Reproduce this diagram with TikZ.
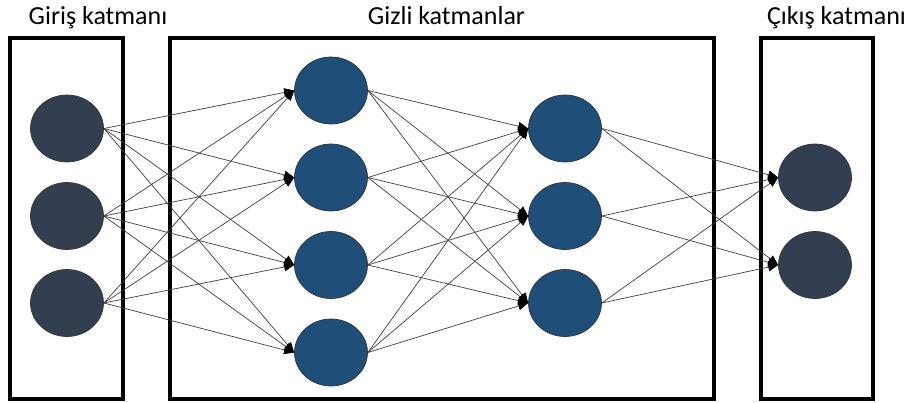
\documentclass[tikz,border=0pt]{standalone}
\usepackage{fontspec}
\setmainfont{Carlito}
\usetikzlibrary{shapes.geometric,arrows.meta}
\definecolor{darkn}{HTML}{333F50}
\definecolor{bluen}{HTML}{1F4E79}
\tikzset{
  neuron/.style={ellipse,draw=black!80,line width=0.7pt,minimum width=73pt,minimum height=67pt,inner sep=0pt},
  inneuron/.style={neuron,fill=darkn},
  hidneuron/.style={neuron,fill=bluen},
  layerbox/.style={draw=black,line width=4pt},
  conn/.style={draw=black!75,line width=0.7pt,-{Triangle[length=10pt,width=8.5pt,fill=black,color=black]}},
  title/.style={font=\fontsize{26}{30}\selectfont,anchor=base,inner sep=0pt}
}
\begin{document}
\begin{tikzpicture}[x=1pt,y=-1pt]
\useasboundingbox (0,0) rectangle (910,403);
\fill[white] (0,0) rectangle (910,403);
% boxes
\draw[layerbox] (10.3,38.5) rectangle (123,398.5);
\draw[layerbox] (170.3,38.5) rectangle (714,398.5);
\draw[layerbox] (761.3,38.5) rectangle (873,398.5);
% titles
\node[title] (t1) at (98,25) {Giriş katmanı};
\node[title] (t2) at (446.5,25) {Gizli katmanlar};
\node[title] (t3) at (836.5,25) {Çıkış katmanı};
% neurons
\node[inneuron] (i1) at (67,128.5) {};
\node[inneuron] (i2) at (67,216) {};
\node[inneuron] (i3) at (67,303) {};
\node[hidneuron] (a1) at (331,90.5) {};
\node[hidneuron] (a2) at (331,177.5) {};
\node[hidneuron] (a3) at (331,265) {};
\node[hidneuron] (a4) at (331,352.5) {};
\node[hidneuron] (b1) at (565,128.5) {};
\node[hidneuron] (b2) at (565,216) {};
\node[hidneuron] (b3) at (565,303) {};
\node[inneuron] (o1) at (815,177.5) {};
\node[inneuron] (o2) at (815,265) {};
% connections
\foreach \s in {i1,i2,i3}
  \foreach \t in {a1,a2,a3,a4}
    \draw[conn] (\s.east) -- (\t.west);
\foreach \s in {a1,a2,a3,a4}
  \foreach \t in {b1,b2,b3}
    \draw[conn] (\s.east) -- (\t.west);
\foreach \s in {b1,b2,b3}
  \foreach \t in {o1,o2}
    \draw[conn] (\s.east) -- (\t.west);
\end{tikzpicture}
\end{document}
